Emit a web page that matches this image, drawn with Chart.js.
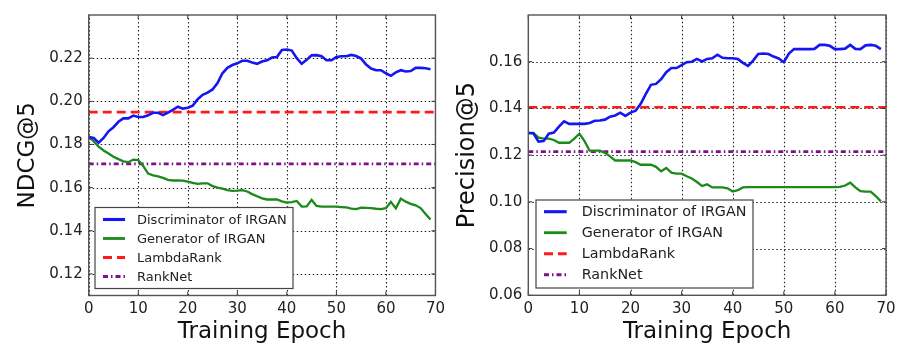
<!DOCTYPE html>
<html>
<head>
<meta charset="utf-8">
<script src="https://cdn.jsdelivr.net/npm/chart.js@4.4.0/dist/chart.umd.min.js"></script>
<style>
  body { margin: 0; background: #fff; }
  canvas { position: absolute; top: 0; }
  #izq { left: 0; }
  #der { left: 450px; }
</style>
</head>
<body>
<canvas id="izq" width="450" height="346"></canvas>
<canvas id="der" width="452" height="346"></canvas>
<script>
// epocas de entrenamiento (eje x)
var epocas = [0,1,2,3,4,5,6,7,8,9,10,11,12,13,14,15,16,17,18,19,20,21,22,23,24,25,26,27,28,29,
  30,31,32,33,34,35,36,37,38,39,40,41,42,43,44,45,46,47,48,49,50,51,52,53,54,55,56,57,58,59,
  60,61,62,63,64,65,66,67,68,69];
var xTicks = [0, 10, 20, 30, 40, 50, 60, 70];

// NDCG@5
var ndcgDisc = [0.1834,0.1830,0.1808,0.1830,0.1861,0.1880,0.1905,0.1921,0.1921,0.1934,
  0.1927,0.1927,0.1935,0.1947,0.1947,0.1936,0.1948,0.1960,0.1975,0.1966,
  0.1970,0.1980,0.2010,0.2030,0.2040,0.2055,0.2085,0.2130,0.2155,0.2168,
  0.2176,0.2188,0.2188,0.2180,0.2174,0.2184,0.2190,0.2203,0.2205,0.2238,
  0.2240,0.2235,0.2200,0.2174,0.2192,0.2213,0.2214,0.2209,0.2190,0.2190,
  0.2205,0.2209,0.2209,0.2215,0.2210,0.2198,0.2170,0.2152,0.2144,0.2144,
  0.2130,0.2118,0.2134,0.2144,0.2138,0.2140,0.2155,0.2155,0.2153,0.2149];
var ndcgGen = [0.1834,0.1815,0.1790,0.1772,0.1758,0.1743,0.1732,0.1722,0.1718,0.1730,
  0.1728,0.1700,0.1665,0.1657,0.1652,0.1645,0.1636,0.1633,0.1633,0.1632,
  0.1628,0.1622,0.1617,0.1620,0.1620,0.1607,0.1600,0.1595,0.1588,0.1585,
  0.1586,0.1588,0.1582,0.1570,0.1560,0.1550,0.1545,0.1545,0.1545,0.1536,
  0.1531,0.1533,0.1538,0.1512,0.1513,0.1543,0.1515,0.1512,0.1512,0.1512,
  0.1512,0.1510,0.1508,0.1503,0.1500,0.1507,0.1506,0.1505,0.1502,0.1500,
  0.1505,0.1534,0.1504,0.1549,0.1535,0.1525,0.1518,0.1505,0.1478,0.1452];
var ndcgLambda = 0.195;
var ndcgRankNet = 0.171;
var ndcgTicks = [0.12, 0.14, 0.16, 0.18, 0.20, 0.22];

// Precision@5
var precDisc = [0.1295,0.1293,0.1258,0.1260,0.1292,0.1297,0.1322,0.1345,0.1334,0.1334,
  0.1334,0.1334,0.1338,0.1347,0.1348,0.1352,0.1365,0.1370,0.1382,0.1368,
  0.1382,0.1390,0.1420,0.1462,0.1501,0.1505,0.1525,0.1555,0.1573,0.1573,
  0.1585,0.1598,0.1600,0.1612,0.1601,0.1612,0.1615,0.1630,0.1617,0.1615,
  0.1615,0.1612,0.1595,0.1582,0.1605,0.1633,0.1635,0.1633,0.1622,0.1614,
  0.1598,0.1635,0.1654,0.1654,0.1654,0.1654,0.1655,0.1672,0.1672,0.1668,
  0.1654,0.1654,0.1656,0.1672,0.1655,0.1654,0.1670,0.1672,0.1668,0.1654];
var precGen = [0.1295,0.1295,0.1275,0.1271,0.1271,0.1265,0.1253,0.1253,0.1253,0.1271,
  0.1292,0.1260,0.1219,0.1219,0.1219,0.1210,0.1195,0.1177,0.1177,0.1177,
  0.1177,0.1170,0.1159,0.1159,0.1159,0.1150,0.1131,0.1145,0.1125,0.1121,
  0.1121,0.1110,0.1100,0.1085,0.1068,0.1075,0.1062,0.1062,0.1062,0.1058,
  0.1044,0.1050,0.1062,0.1063,0.1063,0.1063,0.1063,0.1063,0.1063,0.1063,
  0.1063,0.1063,0.1063,0.1063,0.1063,0.1063,0.1063,0.1063,0.1063,0.1063,
  0.1063,0.1064,0.1070,0.1082,0.1062,0.1046,0.1044,0.1044,0.1025,0.1002];
var precLambda = 0.1405;
var precRankNet = 0.1215;
var precTicks = [0.06, 0.08, 0.10, 0.12, 0.14, 0.16];

var nombres = ['Discriminator of IRGAN', 'Generator of IRGAN', 'LambdaRank', 'RankNet'];

var fuente = "'DejaVu Sans', sans-serif";

// rejilla punteada, marco gris, marcas hacia dentro y leyenda dentro del area
var marcoLeyenda = {
  id: 'marcoLeyenda',
  beforeDatasetsDraw: function (chart) {
    var ctx = chart.ctx, a = chart.chartArea;
    var xs = chart.scales.x, ys = chart.scales.y;
    ctx.save();
    ctx.strokeStyle = '#222';
    ctx.lineWidth = 1.1;
    ctx.setLineDash([1.5, 2.5]);
    ctx.beginPath();
    xs.ticks.forEach(function (t) {
      var p = Math.round(xs.getPixelForValue(t.value)) + 0.5;
      ctx.moveTo(p, a.bottom); ctx.lineTo(p, a.top);
    });
    ys.ticks.forEach(function (t) {
      var p = Math.round(ys.getPixelForValue(t.value)) + 0.5;
      ctx.moveTo(a.left, p); ctx.lineTo(a.right, p);
    });
    ctx.stroke();
    ctx.restore();
  },
  afterDraw: function (chart, args, o) {
    var ctx = chart.ctx, a = chart.chartArea;
    var xs = chart.scales.x, ys = chart.scales.y;
    ctx.save();
    ctx.strokeStyle = '#333';
    ctx.lineWidth = 1;
    ctx.beginPath();
    xs.ticks.forEach(function (t) {
      var p = xs.getPixelForValue(t.value);
      ctx.moveTo(p, a.bottom); ctx.lineTo(p, a.bottom - 4);
      ctx.moveTo(p, a.top); ctx.lineTo(p, a.top + 4);
    });
    ys.ticks.forEach(function (t) {
      var p = ys.getPixelForValue(t.value);
      ctx.moveTo(a.left, p); ctx.lineTo(a.left + 4, p);
      ctx.moveTo(a.right, p); ctx.lineTo(a.right - 4, p);
    });
    ctx.stroke();
    ctx.strokeStyle = '#555';
    ctx.lineWidth = 1.4;
    ctx.strokeRect(a.left, a.top, a.right - a.left, a.bottom - a.top);

    // leyenda
    var x0 = a.left + o.dx, y0 = a.bottom - o.dy - o.h;
    ctx.fillStyle = '#fff';
    ctx.fillRect(x0, y0, o.w, o.h);
    ctx.strokeStyle = '#444';
    ctx.lineWidth = 1.2;
    ctx.strokeRect(x0, y0, o.w, o.h);
    ctx.font = o.size + 'px ' + fuente;
    ctx.textBaseline = 'middle';
    chart.data.datasets.forEach(function (ds, i) {
      var y = y0 + o.first + i * o.row;
      ctx.strokeStyle = ds.borderColor;
      ctx.lineWidth = ds.borderWidth + 0.5;
      ctx.setLineDash(ds.borderDash || []);
      ctx.beginPath();
      ctx.moveTo(x0 + 8, y);
      ctx.lineTo(x0 + o.lineEnd, y);
      ctx.stroke();
      ctx.setLineDash([]);
      ctx.fillStyle = '#222';
      ctx.fillText(ds.label, x0 + o.textX, y + 1);
    });
    ctx.restore();
  }
};

function constante(v) {
  return [{ x: xTicks[0], y: v }, { x: xTicks[xTicks.length - 1], y: v }];
}

function crear(id, disc, gen, lambda, ranknet, yTicks, yMin, yMax, yTitulo, cfg) {
  var ctx = document.getElementById(id).getContext('2d');
  return new Chart(ctx, {
    type: 'line',
    data: {
      labels: epocas,
      datasets: [
        { label: nombres[0], data: disc, borderColor: '#1616f0', borderWidth: 2.6 },
        { label: nombres[1], data: gen, borderColor: '#1a8a1a', borderWidth: 2.3 },
        { label: nombres[2], data: constante(lambda), borderColor: '#ff1a1a', borderWidth: 2.6, borderDash: [9, 5] },
        { label: nombres[3], data: constante(ranknet), borderColor: '#80108a', borderWidth: 2.6, borderDash: [5, 3, 1.5, 3] }
      ]
    },
    options: {
      responsive: false,
      animation: false,
      events: [],
      elements: { point: { radius: 0 }, line: { tension: 0 } },
      layout: { padding: { left: 0, right: cfg.right, top: cfg.top, bottom: 0 } },
      plugins: {
        legend: { display: false },
        tooltip: { enabled: false },
        marcoLeyenda: cfg.leyenda
      },
      scales: {
        x: {
          type: 'linear',
          min: xTicks[0],
          max: xTicks[xTicks.length - 1],
          afterBuildTicks: function (s) { s.ticks = xTicks.map(function (v) { return { value: v }; }); },
          afterFit: function (s) { s.height = cfg.xh; },
          grid: { display: false, drawTicks: false },
          border: { display: false },
          ticks: { padding: 5, color: '#222', font: { family: fuente, size: 15 }, maxRotation: 0 },
          title: { display: true, text: 'Training Epoch', color: '#111', font: { family: fuente, size: 23 }, padding: 0 }
        },
        y: {
          min: yMin,
          max: yMax,
          afterBuildTicks: function (s) { s.ticks = yTicks.map(function (v) { return { value: v }; }); },
          afterFit: function (s) { s.width = cfg.yw; },
          grid: { display: false, drawTicks: false },
          border: { display: false },
          ticks: {
            padding: 6, color: '#222', font: { family: fuente, size: 15 },
            callback: function (v) { return v.toFixed(2); }
          },
          title: { display: true, text: yTitulo, color: '#111', font: { family: fuente, size: cfg.ts }, padding: { top: cfg.tp, bottom: 0 } }
        }
      }
    },
    plugins: [marcoLeyenda]
  });
}

crear('izq', ndcgDisc, ndcgGen, ndcgLambda, ndcgRankNet, ndcgTicks, 0.11, 0.24, 'NDCG@5', {
  right: 2.3, top: 8, xh: 50.5, yw: 88.7, ts: 23, tp: 14,
  leyenda: { dx: 6.3, dy: 7, w: 198, h: 81, first: 12, row: 19, size: 13, lineEnd: 30, textX: 42 }
});

crear('der', precDisc, precGen, precLambda, precRankNet, precTicks, 0.06, 0.18, 'Precision@5', {
  right: 16, top: 9, xh: 50.7, yw: 78.3, ts: 24, tp: 3.6,
  leyenda: { dx: 7.7, dy: 7.3, w: 217, h: 88, first: 11.7, row: 21, size: 14.3, lineEnd: 30.7, textX: 45.7 }
});
</script>
</body>
</html>
